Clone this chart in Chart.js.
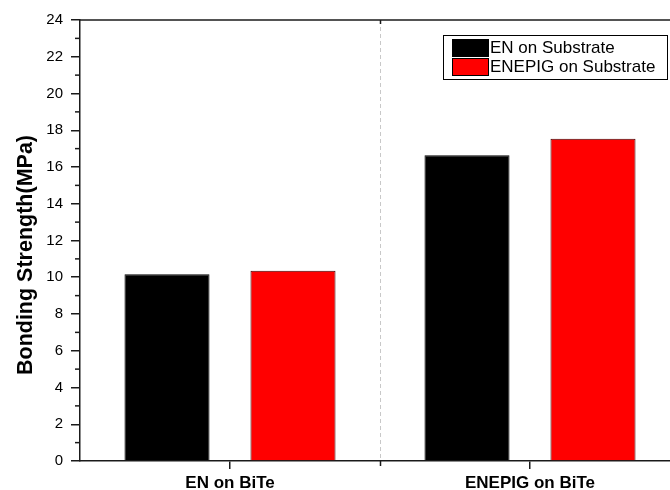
<!DOCTYPE html>
<html>
<head>
<meta charset="utf-8">
<script src="https://cdn.jsdelivr.net/npm/chart.js@4.4.1/dist/chart.umd.min.js"></script>
<style>
  html, body { margin: 0; padding: 0; background: #fff; }
  #clip { width: 670px; height: 490px; overflow: hidden; position: relative; }
  #wrap { width: 700px; height: 490px; position: absolute; left: 0; top: 0; }
</style>
</head>
<body>
<div id="clip"><div id="wrap"><canvas id="c"></canvas></div></div>
<script>
const categories = ["EN on BiTe", "ENEPIG on BiTe"];
const seriesNames = ["EN on Substrate", "ENEPIG on Substrate"];
const enValues = [10.16, 16.64];
const enepigValues = [10.36, 17.54];
const yTicks = [0, 2, 4, 6, 8, 10, 12, 14, 16, 18, 20, 22, 24];
const yTitle = "Bonding Strength(MPa)";

const FONT = "'Liberation Sans', Arial, Helvetica, sans-serif";
const AXIS = "#1a1a1a";

const decorPlugin = {
  id: 'decor',
  beforeDatasetsDraw(chart) {
    const {ctx, chartArea: a, scales: {x, y}} = chart;
    ctx.save();
    const mid = (x.getPixelForValue(0) + x.getPixelForValue(1)) / 2;
    ctx.strokeStyle = '#c8c8c8';
    ctx.lineWidth = 1;
    ctx.setLineDash([4, 3]);
    ctx.beginPath();
    ctx.moveTo(Math.round(mid) + 0.5, a.top);
    ctx.lineTo(Math.round(mid) + 0.5, a.bottom);
    ctx.stroke();
    ctx.restore();
  },
  afterDraw(chart) {
    const {ctx, chartArea: a, scales: {x, y}} = chart;
    ctx.save();
    // y axis title
    ctx.save();
    ctx.translate(32, 255);
    ctx.rotate(-Math.PI / 2);
    ctx.font = "bold 21.5px " + FONT;
    ctx.fillStyle = '#000';
    ctx.textAlign = 'center';
    ctx.textBaseline = 'alphabetic';
    ctx.fillText(yTitle, 0, 0);
    ctx.restore();

    ctx.strokeStyle = AXIS;
    ctx.lineWidth = 1.5;
    ctx.beginPath();
    ctx.moveTo(a.left, a.top);
    ctx.lineTo(a.right + 2, a.top);
    ctx.stroke();
    for (let i = 0; i < yTicks.length - 1; i++) {
      const v = (yTicks[i] + yTicks[i + 1]) / 2;
      const py = y.getPixelForValue(v);
      ctx.beginPath();
      ctx.moveTo(a.left - 5, py);
      ctx.lineTo(a.left, py);
      ctx.stroke();
    }
    const mid = Math.round((x.getPixelForValue(0) + x.getPixelForValue(1)) / 2) + 0.5;
    ctx.beginPath();
    ctx.moveTo(mid, a.bottom);
    ctx.lineTo(mid, a.bottom + 5);
    ctx.moveTo(mid, a.top);
    ctx.lineTo(mid, a.top + 4);
    ctx.stroke();
    // legend
    const lx = 443, ly = 35, lw = 224, lh = 44;
    ctx.lineWidth = 1;
    ctx.strokeStyle = '#000';
    ctx.fillStyle = '#fff';
    ctx.fillRect(lx, ly, lw, lh);
    ctx.strokeRect(lx + 0.5, ly + 0.5, lw, lh);
    ctx.font = "17px " + FONT;
    ctx.textBaseline = 'middle';
    chart.data.datasets.forEach((ds, i) => {
      const sy = 39 + i * 19;
      ctx.fillStyle = ds.backgroundColor;
      ctx.fillRect(452, sy, 36, 17);
      ctx.strokeStyle = '#000';
      ctx.strokeRect(452.5, sy + 0.5, 36, 17);
      ctx.fillStyle = '#000';
      ctx.fillText(ds.label, 490, sy + 9);
    });
    ctx.restore();
  }
};

new Chart(document.getElementById('c'), {
  type: 'bar',
  data: {
    labels: categories,
    datasets: [
      { label: seriesNames[0], data: enValues, backgroundColor: '#000000', borderColor: '#000000', borderWidth: 1 },
      { label: seriesNames[1], data: enepigValues, backgroundColor: '#ff0000', borderColor: '#3a0000', borderWidth: 1 }
    ]
  },
  options: {
    responsive: true,
    maintainAspectRatio: false,
    animation: false,
    devicePixelRatio: 1,
    categoryPercentage: 0.84,
    barPercentage: 0.675,
    layout: { padding: { top: 20, right: 20, left: 0, bottom: 0 } },
    plugins: { legend: { display: false }, tooltip: { enabled: false } },
    scales: {
      x: {
        grid: { display: true, drawOnChartArea: false, offset: false, tickLength: 8, color: AXIS, tickColor: AXIS, lineWidth: 1.5 },
        border: { display: true, color: AXIS, width: 1.5 },
        ticks: { color: '#000', font: { family: FONT, size: 17, weight: 'bold' }, padding: 4, maxRotation: 0 },
        afterFit(s) { s.height = 29; }
      },
      y: {
        min: 0, max: 24,
        afterBuildTicks(s) { s.ticks = yTicks.map(v => ({ value: v })); },
        grid: { display: true, drawOnChartArea: false, tickLength: 9, color: AXIS, tickColor: AXIS, lineWidth: 1.5 },
        border: { display: true, color: AXIS, width: 1.5 },
        ticks: { color: '#000', font: { family: FONT, size: 15 }, padding: 8 },
        title: { display: false },
        afterFit(s) { s.width = 80; }
      }
    }
  },
  plugins: [decorPlugin]
});
</script>
</body>
</html>
